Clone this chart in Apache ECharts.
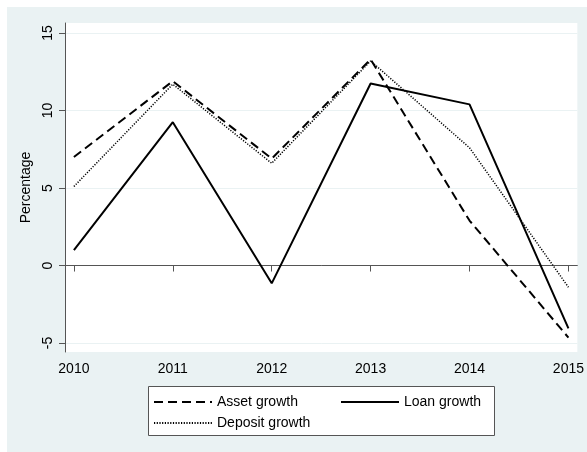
<!DOCTYPE html>
<html>
<head>
<meta charset="utf-8">
<script src="https://cdn.jsdelivr.net/npm/echarts@6/dist/echarts.min.js"></script>
<style>html,body{margin:0;padding:0;background:#fff}#c{width:587px;height:452px}</style>
</head>
<body>
<div id="c"></div>
<script>
var years = [2010, 2011, 2012, 2013, 2014, 2015];
var assetGrowth = [7.0, 11.9, 6.9, 13.3, 2.9, -4.65];
var loanGrowth = [1.0, 9.25, -1.15, 11.75, 10.4, -4.05];
var depositGrowth = [5.1, 11.7, 6.6, 13.2, 7.6, -1.4];
var yTicks = [-5, 0, 5, 10, 15];
var xTicks = [2010, 2011, 2012, 2013, 2014, 2015];

function pairs(vals) { return years.map(function (y, i) { return [y, vals[i]]; }); }

var chart = echarts.init(document.getElementById('c'), null, {renderer: 'canvas'});
var font = 'Liberation Sans, Arial, sans-serif';
var legendBase = {
  orient: 'horizontal', padding: 0, itemWidth: 58, itemHeight: 14,
  textStyle: {fontFamily: font, fontSize: 14, color: '#000'},
  itemStyle: {opacity: 0},
  selectedMode: false
};
chart.setOption({
  animation: false,
  backgroundColor: '#ffffff',
  graphic: {elements: [
    {type: 'rect', z: -100, shape: {x: 7, y: 7, width: 580, height: 445}, style: {fill: '#EAF2F3'}, silent: true},
    {type: 'rect', z: 2, shape: {x: 148.5, y: 386.5, width: 346, height: 49}, style: {fill: '#ffffff', stroke: '#555', lineWidth: 1}, silent: true}
  ]},
  grid: {left: 65, top: 23, width: 513, height: 329, show: true, backgroundColor: '#ffffff', borderWidth: 0, containLabel: false},
  xAxis: {
    type: 'value', min: 2009.91, max: 2015.09,
    axisLine: {show: true, lineStyle: {color: '#555', width: 1}},
    axisTick: {show: true, length: 6, customValues: xTicks, lineStyle: {color: '#555'}},
    axisLabel: {customValues: xTicks, margin: 10, fontFamily: font, fontSize: 14, color: '#000',
      formatter: function (v) { return String(v); }},
    splitLine: {show: false}
  },
  yAxis: {
    type: 'value', min: -5.58, max: 15.65,
    name: 'Percentage', nameLocation: 'middle', nameGap: 31,
    nameTextStyle: {fontFamily: font, fontSize: 14, color: '#000'},
    axisLine: {show: true, lineStyle: {color: '#555', width: 1}},
    axisTick: {show: true, length: 6, customValues: yTicks, lineStyle: {color: '#555'}},
    axisLabel: {customValues: yTicks, rotate: 90, margin: 10, fontFamily: font, fontSize: 14, color: '#000'},
    splitLine: {show: true, lineStyle: {color: '#EAF2F3', width: 1}}
  },
  legend: [
    Object.assign({}, legendBase, {data: ['Asset growth'], left: 153, top: 395}),
    Object.assign({}, legendBase, {data: ['Loan growth'], left: 340, top: 395}),
    Object.assign({}, legendBase, {data: ['Deposit growth'], left: 153, top: 416})
  ],
  series: [
    {name: 'Asset growth', type: 'line', data: pairs(assetGrowth), symbol: 'none', silent: true,
     lineStyle: {color: '#000', width: 2, type: [9, 5]}, itemStyle: {color: '#000'}},
    {name: 'Loan growth', type: 'line', data: pairs(loanGrowth), symbol: 'none', silent: true,
     lineStyle: {color: '#000', width: 2, type: 'solid'}, itemStyle: {color: '#000'}},
    {name: 'Deposit growth', type: 'line', data: pairs(depositGrowth), symbol: 'none', silent: true,
     lineStyle: {color: '#000', width: 1.5, type: [1.2, 1.5]}, itemStyle: {color: '#000'}}
  ]
});
</script>
</body>
</html>
